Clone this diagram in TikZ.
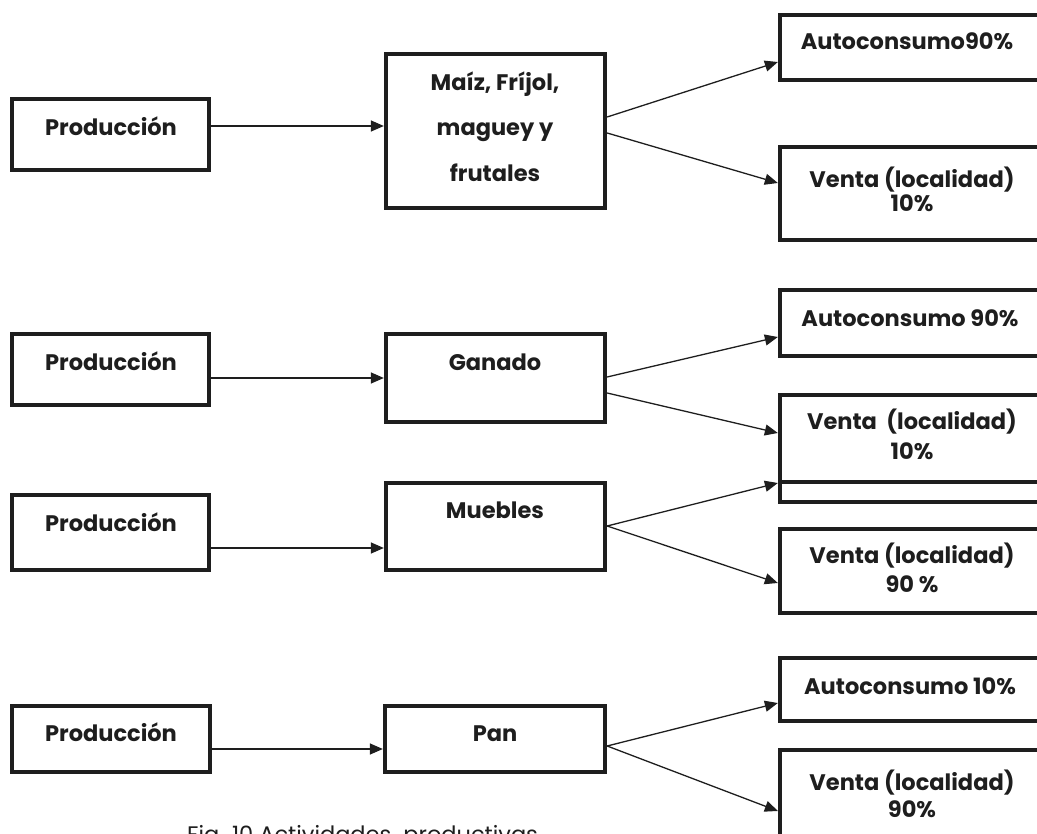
\documentclass[tikz,border=0pt]{standalone}
\usepackage{fontspec}
\setmainfont{Poppins}
\usetikzlibrary{arrows.meta}
\definecolor{ink}{RGB}{30,30,30}
\begin{document}
\begin{tikzpicture}[x=1pt,y=-1pt,
  box/.style={draw=ink,line width=4.3pt,fill=white,inner sep=0pt},
  lbl/.style={font=\bfseries\fontsize{22.5}{26}\selectfont,text=ink,anchor=base,inner sep=0pt},
  arr/.style={draw=ink,line width=1.3pt,-{Triangle[length=13pt,width=11pt]}}]
\useasboundingbox (0,0) rectangle (1037,834);
\clip (0,0) rectangle (1037,834);
% ---------- row 1
\node[box,minimum width=197pt,minimum height=71pt] (P1) at (110.5,134.5) {};
\node[box,minimum width=219pt,minimum height=154pt] (M1) at (495.5,131) {};
\node[box,minimum width=264pt,minimum height=65pt] (A1) at (912,47.5) {};
\node[box,minimum width=264pt,minimum height=93pt] (V1) at (912,193.5) {};
\node[lbl] (tP1) at (111,135.5) {Producción};
\node[lbl] (tM1a) at (495,91) {Maíz, Fríjol,};
\node[lbl] (tM1b) at (495,136) {maguey y};
\node[lbl] (tM1c) at (495,182) {frutales};
\node[lbl] (tA1) at (907,50) {Autoconsumo90\%};
\node[lbl] (tV1a) at (912,188) {Venta (localidad)};
\node[lbl] (tV1b) at (912,212) {10\%};
\draw[arr] ([yshift=8.5pt]P1.east) -- ([yshift=5pt]M1.west);
\draw[arr] ([yshift=14pt]M1.east) -- ([yshift=-14.5pt]A1.west);
\draw[arr] ([yshift=-2pt]M1.east) -- ([yshift=10.5pt]V1.west);
% ---------- row 2
\node[box,minimum width=197pt,minimum height=71pt] (P2) at (110.5,369.5) {};
\node[box,minimum width=219pt,minimum height=88pt] (G) at (495.5,378) {};
\node[box,minimum width=264pt,minimum height=66pt] (A2) at (912,323) {};
\node[box,minimum width=264pt,minimum height=52pt] (H) at (912,476) {};
\node[box,minimum width=264pt,minimum height=87pt] (V2) at (912,438.5) {};
\node[lbl] (tP2) at (111,370.5) {Producción};
\node[lbl] (tG) at (495,370.5) {Ganado};
\node[lbl] (tA2) at (910,327) {Autoconsumo 90\%};
\node[lbl] (tV2a) at (912,430) {Venta\ \ (localidad)};
\node[lbl] (tV2b) at (912,460) {10\%};
\draw[arr] ([yshift=-8.5pt]P2.east) -- (G.west);
\draw[arr] ([yshift=1pt]G.east) -- ([yshift=-14pt]A2.west);
\draw[arr] ([yshift=-15pt]G.east) -- ([yshift=5.5pt]V2.west);
% ---------- row 3
\node[box,minimum width=197pt,minimum height=75pt] (P3) at (110.5,532.5) {};
\node[box,minimum width=219pt,minimum height=87pt] (Mu) at (495.5,526.5) {};
\node[box,minimum width=264pt,minimum height=84pt] (V3) at (912,571) {};
\node[lbl] (tP3) at (111,531.5) {Producción};
\node[lbl] (tMu) at (495,518.5) {Muebles};
\node[lbl] (tV3a) at (912,563) {Venta (localidad)};
\node[lbl] (tV3b) at (912,592) {90 \%};
\draw[arr] ([yshift=-15.5pt]P3.east) -- ([yshift=-21.5pt]Mu.west);
\draw[arr] ([yshift=0.5pt]Mu.east) -- ([yshift=-7pt]H.west);
\draw[arr] ([yshift=0.5pt]Mu.east) -- ([yshift=-12pt]V3.west);
% ---------- row 4
\node[box,minimum width=198pt,minimum height=66pt] (P4) at (111,739) {};
\node[box,minimum width=220pt,minimum height=66pt] (Pan) at (495,739) {};
\node[box,minimum width=264pt,minimum height=63pt] (A4) at (912,689.5) {};
\node[box,minimum width=264pt,minimum height=110pt] (V4) at (912,805) {};
\node[lbl] (tP4) at (111,741.5) {Producción};
\node[lbl] (tPan) at (495,741.5) {Pan};
\node[lbl] (tA4) at (910,694) {Autoconsumo 10\%};
\node[lbl] (tV4a) at (912,790) {Venta (localidad)};
\node[lbl] (tV4b) at (912,817) {90\%};
\draw[arr] ([yshift=-10pt]P4.east) -- ([yshift=-10pt]Pan.west);
\draw[arr] ([yshift=-7pt]Pan.east) -- ([yshift=-13.5pt]A4.west);
\draw[arr] ([yshift=-7pt]Pan.east) -- ([yshift=-6pt]V4.west);
% ---------- caption
\node[anchor=base west,inner sep=0pt,text=ink,font=\fontsize{22.5}{26}\selectfont] (cap) at (187,842) {Fig. 10 Actividades\ \ productivas};
\end{tikzpicture}
\end{document}
